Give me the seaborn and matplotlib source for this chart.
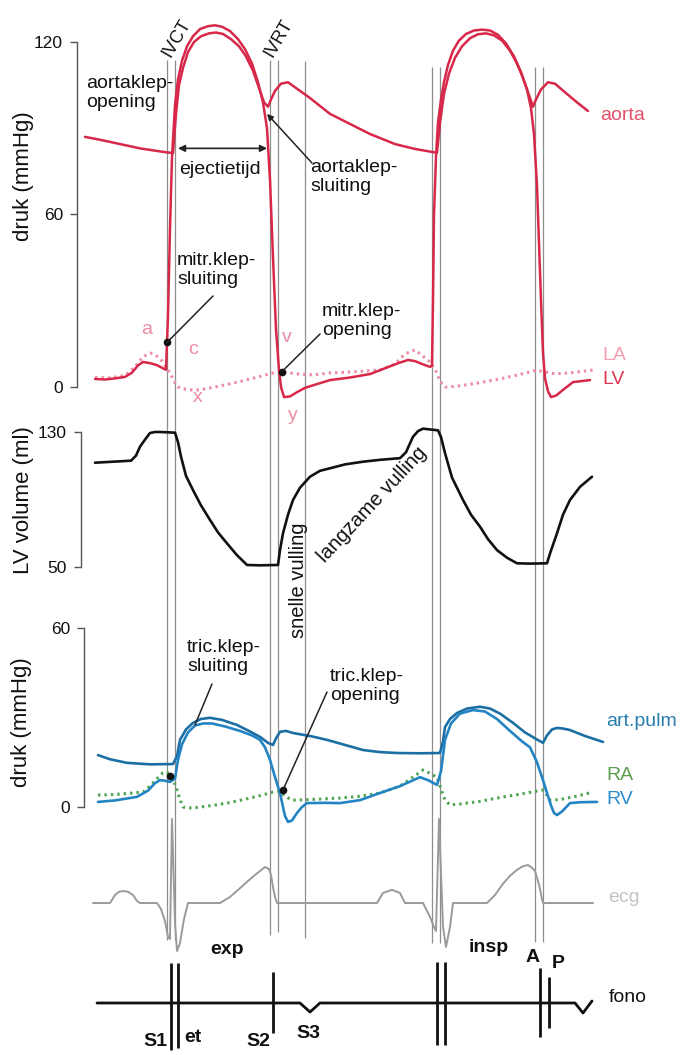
import numpy as np
import matplotlib
matplotlib.use("Agg")
import matplotlib.pyplot as plt
import seaborn as sns

sns.set_theme(style="white")
plt.rcParams["font.family"] = ["Liberation Sans", "DejaVu Sans"]

# ---------------- data (time in arbitrary units along the horizontal axis) ----------------
# left heart pressures (mmHg)
lv_t = [95,105,115,125,132,138,143,150,157,163,166,168,170,172,175,178,182,187,193,200,
        208,215,222,230,238,245,252,258,263,267,270,273,276,279,281,284,290,297,305,315,
        330,350,370,393,400,408,415,422,430,432,433,434,436,438,441,444,448,453,459,466,
        474,482,490,498,506,514,521,527,531,534,537,539,541,543,545,548,551,556,563,573,590]
lv_p = [2.8,2.6,3.0,3.5,5.0,7.5,8.7,8.3,7.6,6.5,6.0,25,55,80,98,107,113.5,118.5,122,124.5,
        125.5,125.8,125.3,123.8,121,117.5,112.5,106,99,90,72,45,20,6,0,-3.5,-3.3,-1.8,-0.3,0.8,
        2.4,3.3,4.5,7.6,8.5,9.4,9,8,7,7.5,30,60,80,92,100,106,112,117,120.5,122.8,
        124,124.3,124,122.5,119.5,115,109.5,103.5,97,88,70,50,30,12,3,-1.5,-3.5,-3,-1,1.7,2.4]

ao_t = [85,100,120,140,155,167,173,176,179,183,188,194,201,209,216,223,231,239,246,253,
        259,264,268,271,275,281,288,296,310,330,350,370,395,415,433,437,440,444,449,455,
        462,470,478,486,494,502,510,517,523,528,531,533,536,541,548,555,565,577,588]
ao_p = [87,86,84.5,83,82.2,81.6,81.4,95,105,111,116.5,120,122,123,123.3,122.8,121,118.5,115,110,
        104,99,97.5,100,103,105.5,106,104,100.5,95,91.5,88,84.5,82.8,81.7,81.5,92,102,109,114.5,
        118.5,121.3,122.7,123,122.3,120.5,117,112.5,107.5,102.5,99.5,97.5,100,103.5,106,105.5,102.5,99,96]

la_t = [95,110,125,135,143,150,155,160,165,168,172,175,178,183,190,200,215,235,255,272,
        280,285,295,313,330,350,380,395,405,415,422,430,436,440,445,455,475,500,520,537,
        545,555,570,593]
la_p = [3.3,3.2,4.0,7.0,10.5,11.8,11.2,10.0,7.5,6.0,3.5,1.5,0,-0.6,-1,-1,0,1.5,3.2,4.8,
        5.5,5.2,4.6,4.2,4.9,5.2,5.9,8,11.5,12.9,11,8.7,5.5,2,0,0.2,1.2,2.8,4.4,5.9,
        5.2,4.6,4.9,5.9]

# LV volume (ml)
vol_t = [95,110,131,136,140,145,150,155,160,168,175,178,181,186,193,201,210,218,227,237,
         247,260,278,280,283,288,293,300,310,320,330,345,363,380,400,406,413,418,423,430,
         438,441,445,452,463,471,480,488,497,507,517,530,547,550,557,563,570,580,592]
vol_v = [111.8,112.3,113,116,121.3,125.5,129.4,130,130,129.8,129.6,124,115.4,104,95.6,86.5,77.9,70.5,64,57,
         51.2,51,51.2,60,70,81,89.7,97,103.5,107,108.5,110.8,112.4,113.5,114.5,118,127.2,130.5,132,131.5,
         131,127,117.5,103,89.7,81,73.9,66.5,60,55.5,52.2,52,52.2,58,70,81,89.7,97.5,103.5]

# right heart pressures (mmHg)
pa_t = [98,110,127,150,173,177,180,186,193,201,210,222,237,250,260,268,273,276,280,286,
        293,310,327,345,363,380,397,420,440,443,445,450,457,467,480,490,500,513,525,535,
        543,547,552,557,563,570,585,603]
pa_p = [17.4,16,14.8,14.3,14.4,17,22.5,26,28.2,29.5,29.9,29.2,27.5,25.3,23.5,21.5,20.8,23,25.2,25.5,
        24.8,23.8,22.5,20.8,19.1,18.4,18.1,18,18.1,22,26.8,29.5,31.5,33,33.6,33,31.3,28.2,25,23,
        21.5,24,26,26.5,26.3,25.8,23.8,21.8]

rv_t = [98,115,137,148,155,160,165,170,175,178,182,188,195,203,212,225,240,252,260,265,
        270,275,280,283,285,288,292,297,302,307,325,340,360,380,400,420,428,437,441,445,
        451,460,473,485,497,510,522,530,537,543,547,551,554,557,562,570,580,597]
rv_p = [1.7,2.2,3.4,5.5,8,9,8.8,8.4,9.5,15.8,21,25,27.3,28,28,27,25.5,24,22.5,20,
        15.8,10,4.7,0,-3,-5,-4.5,-2,0,1.3,1.4,1.3,2.3,4.7,7,10,9,7.4,12,22.5,
        28,31.3,32.5,32,29.5,25.5,22,20,15,9,4.7,0.5,-2,-2.7,-1.5,1.3,1.6,1.7]

ra_t = [98,115,130,143,150,157,163,167,171,174,177,180,183,188,193,210,227,245,260,273,
        280,285,293,310,340,360,380,400,415,423,430,437,441,445,450,460,480,497,520,543,
        547,550,560,575,593]
ra_p = [4,4.2,4.6,5,7,9.5,11.5,11.7,10,8.5,5.7,2.5,0,-0.3,-0.3,0.4,1.3,2.6,3.8,5,
        5.3,3.5,2.3,2.5,3,3.6,4.7,7,10.5,12.4,11.3,10,6,2.3,0.7,1,1.9,3,4.3,5.7,
        4,2.3,2.5,3.5,5]

# ECG (mV)
ecg_t = [93,110,115,119,123,128,133,137,140,157,161,165,168,170,172,175,177,180,184,188,
         220,230,240,248,255,261,265,269,271,273,275,277,377,383,392,400,405,423,430,434,
         436,439,443,446,450,453,487,495,503,510,517,523,528,532,535,538,540,542,543,593]
ecg_v = [0,0,0.2,0.28,0.3,0.28,0.2,0.05,0,0,-0.15,-0.45,-0.85,-0.9,2.1,-0.5,-1.2,-1.0,-0.4,0,
         0,0.15,0.37,0.55,0.7,0.82,0.9,0.85,0.7,0.4,0.15,0,0,0.25,0.33,0.25,0,0,-0.35,-0.6,
         -0.7,2.1,-0.6,-1.1,-0.6,0,0,0.2,0.48,0.68,0.83,0.92,0.95,0.88,0.8,0.55,0.35,0.1,0,0]

# phonocardiogram
fono_t = [97,300,310,320,575,583,592]
fono_v = [0,0,-0.9,0,0,-1.0,0.2]
sound_t = [171,178,273,437,445,540,549]
sound_hi = [4.0,4.0,3.1,4.1,4.1,3.5,2.6]
sound_lo = [-4.7,-4.5,-3.0,-4.2,-4.2,-3.4,-2.5]

# event (valve) times shown as vertical guide lines
event_t = [167,175,270,278,305,432,440,535,543]

mitral_close_t, mitral_open_t = 167, 282
aortic_close_t = 267
tric_close_t, tric_open_t = 170, 283
tric_arrow_t = 195

# ---------------- figure ----------------
W, H = 687, 1055
fig = plt.figure(figsize=(W / 100, H / 100), dpi=100)

RED = "#d8284a"
PINK = "#ec8da3"
BLUE = "#1c6fa3"
BLUE2 = "#2384c4"
GREEN = "#52a552"
GRAY = "#9a9a9a"
GUIDE = "#8e8e8e"
AX = "#555555"

under = fig.add_axes([0, 0, 1, 1], zorder=0)
under.set_xlim(0, W); under.set_ylim(H, 0); under.axis("off")

def panel(left, top, bot, v_hi, y_hi, v_lo, y_lo, z, ticks=None, bounds=None):
    ax = fig.add_axes([left / W, 1 - bot / H, (W - left) / W, (bot - top) / H], zorder=z)
    s = (y_lo - y_hi) / (v_hi - v_lo)
    ax.set_ylim(v_lo - (bot - y_lo) / s, v_hi + (y_hi - top) / s)
    ax.set_xlim(left, W)
    ax.patch.set_alpha(0)
    for sp in ["top", "right", "bottom"]:
        ax.spines[sp].set_visible(False)
    ax.set_xticks([])
    ax.grid(False)
    if ticks is None:
        ax.spines["left"].set_visible(False)
        ax.set_yticks([])
    else:
        ax.spines["left"].set_bounds(*bounds)
        ax.spines["left"].set_color(AX)
        ax.spines["left"].set_linewidth(1.0)
        ax.set_yticks(ticks)
        ax.set_yticklabels([str(t) for t in ticks])
        ax.tick_params(axis="y", left=True, direction="out", length=5, width=1,
                       color=AX, labelsize=12.5, pad=5, labelcolor="#111")
    ax.set_xlabel(""); ax.set_ylabel("")
    return ax

ax_top = panel(77, 0, 425, 120, 42, 0, 387, 2, ticks=[0, 60, 120], bounds=(0, 120))
ax_vol = panel(81, 415, 605, 130, 432, 50, 567, 3, ticks=[50, 130], bounds=(50, 130))
ax_rh = panel(84, 600, 835, 60, 628, 0, 807, 4, ticks=[0, 60], bounds=(0, 60))
ax_ecg = panel(0, 800, 965, 1, 863, 0, 903, 5)
ax_fono = panel(0, 950, 1055, 1, 993, 0, 1003, 6)

# guide lines (valve events)
ev_top = [60, 60, 60, 60, 61, 67, 67, 67, 67]
ev_bot = [940, 940, 935, 932, 938, 943, 943, 942, 942]
under.vlines(event_t, ev_top, ev_bot, color=GUIDE, lw=0.9)

def line(ax, x, y, color, lw, ls="-"):
    sns.lineplot(x=x, y=y, ax=ax, color=color, linewidth=lw, linestyle=ls,
                 sort=False, estimator=None)
    ax.set_xlabel(""); ax.set_ylabel("")

# left heart
line(ax_top, la_t, la_p, PINK, 2.2, (0, (0.8, 1.3)))
line(ax_top, ao_t, ao_p, RED, 1.8)
line(ax_top, lv_t, lv_p, RED, 1.8)
# volume
line(ax_vol, vol_t, vol_v, "#111111", 1.9)
# right heart
line(ax_rh, ra_t, ra_p, GREEN, 2.2, (0, (0.8, 1.3)))
line(ax_rh, pa_t, pa_p, BLUE, 1.9)
line(ax_rh, rv_t, rv_p, BLUE2, 1.9)
# ecg
line(ax_ecg, ecg_t, ecg_v, GRAY, 1.4)
# fono
line(ax_fono, fono_t, fono_v, "#111111", 2.0)
ax_fono.vlines(sound_t, sound_lo, sound_hi, color="#111111", lw=2.0)

# ---------------- texts & annotations ----------------
ov = fig.add_axes([0, 0, 1, 1], zorder=10)
ov.set_xlim(0, W); ov.set_ylim(H, 0); ov.axis("off"); ov.patch.set_alpha(0)

FS = 14
def txt(x, y, s, **kw):
    kw.setdefault("fontsize", FS)
    kw.setdefault("color", "#111111")
    kw.setdefault("ha", "left")
    kw.setdefault("va", "center")
    ov.text(x, y, s, **kw)

def arrow(ax, t, v, px, py, style="-", dot=True):
    ov.annotate("", xy=(t, v), xycoords=ax.transData, xytext=(px, py),
                textcoords=ov.transData,
                arrowprops=dict(arrowstyle=style, color="#222222", lw=1.1,
                                mutation_scale=9, shrinkA=0, shrinkB=0))
    if dot:
        ax.plot([t], [v], "o", color="#111111", ms=4.5, zorder=6)

# y labels
txt(24, 176, "druk (mmHg)", rotation=90, ha="center", fontsize=16)
txt(24, 500, "LV volume (ml)", rotation=90, ha="center", fontsize=16)
txt(22, 722, "druk (mmHg)", rotation=90, ha="center", fontsize=16)

# top panel
txt(177, 38, "IVCT", rotation=60, ha="center", fontsize=13)
txt(279, 38, "IVRT", rotation=60, ha="center", fontsize=13)
txt(86, 93, "aortaklep-\nopening", linespacing=1.1)
txt(220, 169, "ejectietijd", ha="center")
ov.annotate("", xy=(178, 83), xycoords=ax_top.transData, xytext=(267, 83),
            textcoords=ax_top.transData,
            arrowprops=dict(arrowstyle="<|-|>", color="#222222", lw=1.2,
                            mutation_scale=10, shrinkA=0, shrinkB=0))
txt(310, 177, "aortaklep-\nsluiting", linespacing=1.1)
arrow(ax_top, aortic_close_t, 95, 312, 163, style="-|>", dot=False)
txt(177, 270, "mitr.klep-\nsluiting", linespacing=1.1)
arrow(ax_top, mitral_close_t, np.interp(mitral_close_t, lv_t, lv_p), 213, 296)
txt(322, 321, "mitr.klep-\nopening", linespacing=1.1)
arrow(ax_top, mitral_open_t, np.interp(mitral_open_t, la_t, la_p), 320, 334)

for s, x, y in [("a", 147, 330), ("c", 193, 350), ("x", 198, 398), ("v", 287, 337), ("y", 293, 415)]:
    txt(x, y, s, ha="center", color=PINK, fontsize=14)

txt(600, 115, "aorta", color="#e0506a")
txt(602, 356, "LA", color="#f2a0b2")
txt(602, 379, "LV", color="#dd3550")

# volume panel
txt(299, 580, "snelle vulling", rotation=90, ha="center", fontsize=14.5)
txt(372, 505, "langzame vulling", rotation=47, ha="center", fontsize=14.5)

# right heart panel
txt(187, 657, "tric.klep-\nsluiting", linespacing=1.1)
arrow(ax_rh, tric_arrow_t, np.interp(tric_arrow_t, pa_t, pa_p) - 1, 212, 684, dot=False)
ax_rh.plot([tric_close_t], [np.interp(tric_close_t, ra_t, ra_p)], "o", color="#111111", ms=4.5, zorder=6)
txt(330, 686, "tric.klep-\nopening", linespacing=1.1)
arrow(ax_rh, tric_open_t, np.interp(tric_open_t, ra_t, ra_p) + 1.5, 327, 692)

txt(606, 722, "art.pulm", color="#2a7fb0")
txt(606, 775, "RA", color="#5a9e4e")
txt(606, 800, "RV", color="#2a8ad0")

# ecg / fono
txt(608, 898, "ecg", color="#c4c4c4")
for s, x, y in [("S1", 155, 1042), ("et", 193, 1037), ("exp", 227, 950), ("S2", 258, 1042),
                ("S3", 308, 1033), ("insp", 489, 948), ("A", 533, 957), ("P", 558, 964)]:
    txt(x, y, s, ha="center", fontweight="bold")
txt(628, 997, "fono", ha="center")

fig.savefig("out.png", dpi=100, facecolor="white")
